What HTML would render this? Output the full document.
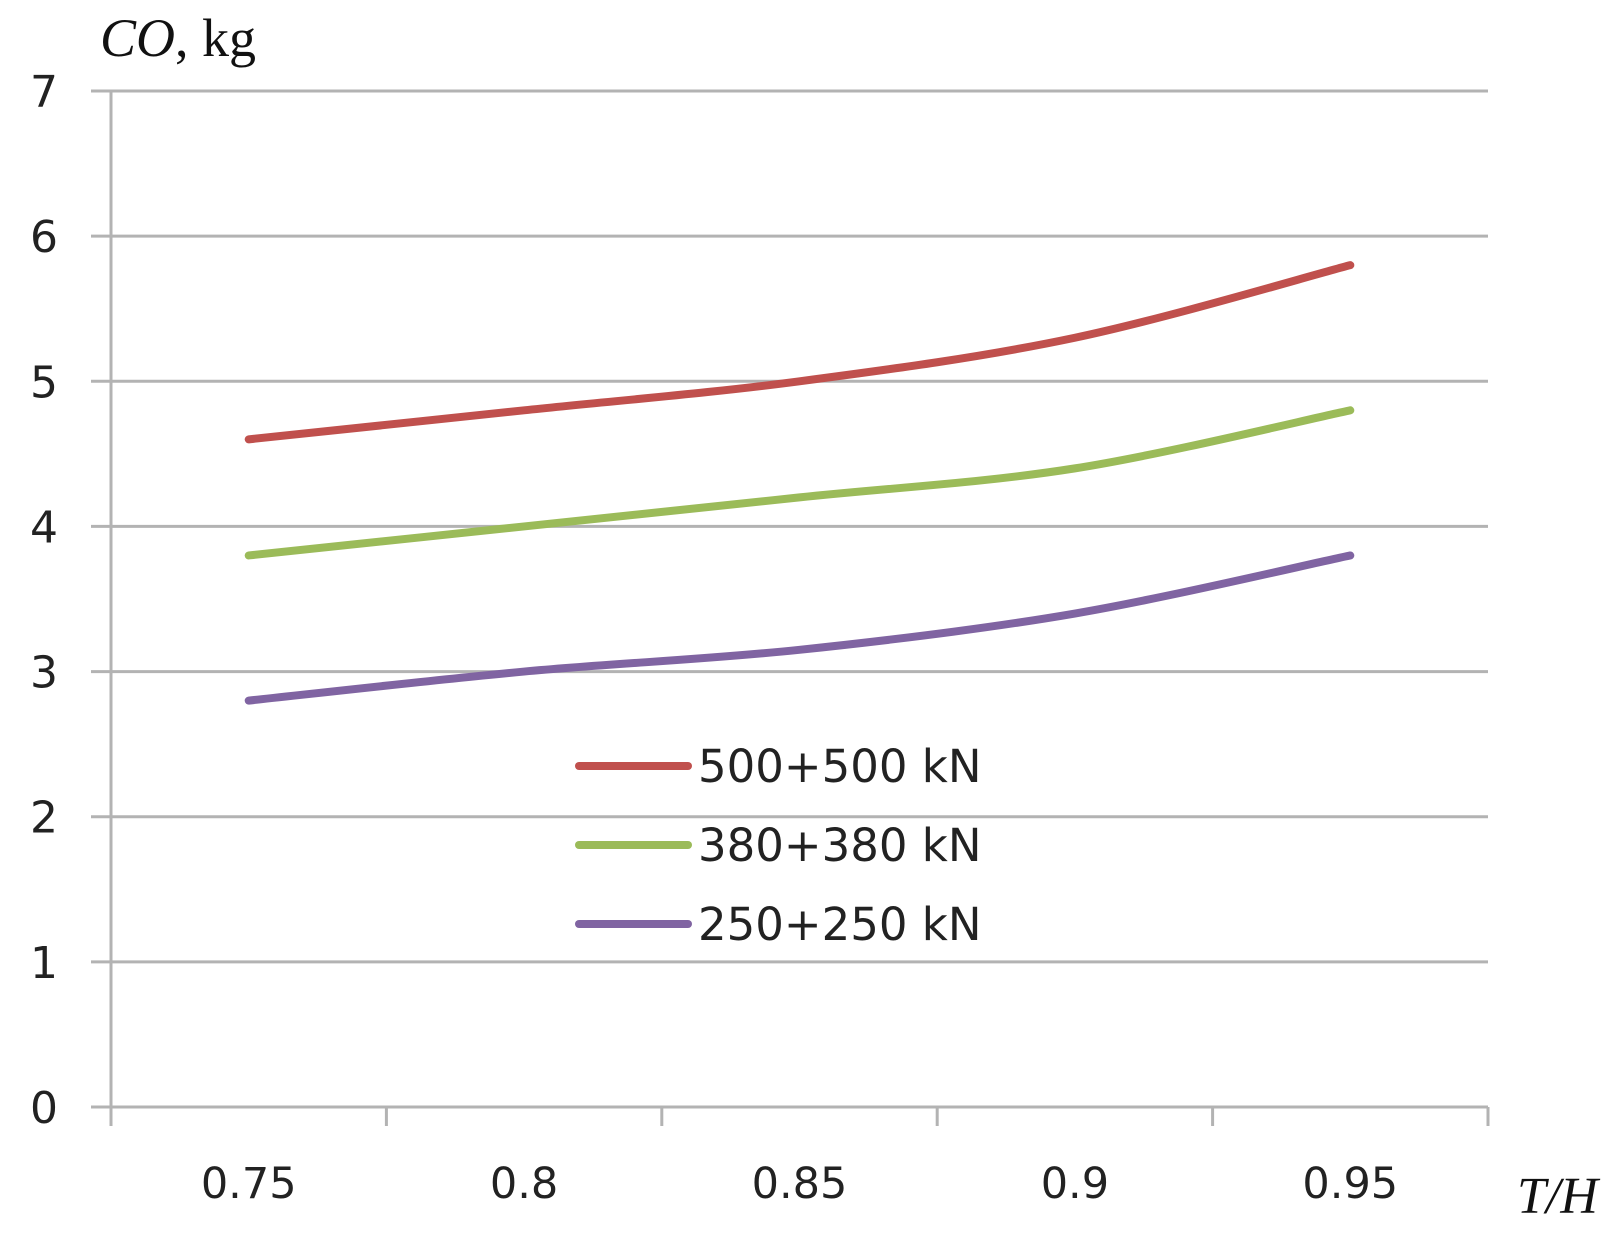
<!DOCTYPE html>
<html><head><meta charset="utf-8"><style>
html,body{margin:0;padding:0;background:#fff}
svg{display:block}
text{font-family:"DejaVu Sans","Liberation Sans",sans-serif;fill:#222}
</style></head><body>
<svg id="chart" width="1623" height="1237" viewBox="0 0 1623 1237" xmlns="http://www.w3.org/2000/svg">
<text x="100" y="56" style="font-family:'Liberation Serif',serif;font-size:54px;fill:#111"><tspan font-style="italic">CO</tspan>, kg</text>
<text x="1517" y="1213" style="font-family:'Liberation Serif',serif;font-size:52px;font-style:italic;fill:#111">T/H</text>
<g id="grid"></g><g id="axes"></g><g id="series"></g><g id="legend"></g>
</svg>
<script>
const categories=["0.75","0.8","0.85","0.9","0.95"];
const yTicks=[0,1,2,3,4,5,6,7];
const seriesNames=["500+500 kN","380+380 kN","250+250 kN"];
const s500=[4.6,4.8,5.0,5.3,5.8];
const s380=[3.8,4.0,4.2,4.4,4.8];
const s250=[2.8,3.0,3.15,3.4,3.8];
const colors=["#c0504d","#9bbb59","#8064a2"];
const NS="http://www.w3.org/2000/svg";
const L=111,R=1488,T=91,B=1107,yMax=7;
const step=(R-L)/categories.length;
const xS=i=>L+step*(i+0.5);
const yS=v=>B-(B-T)*v/yMax;
function mk(tag,attrs,parent){const e=document.createElementNS(NS,tag);for(const k in attrs)e.setAttribute(k,attrs[k]);parent.appendChild(e);return e;}
const grid=document.getElementById('grid'),axes=document.getElementById('axes'),ser=document.getElementById('series'),leg=document.getElementById('legend');
yTicks.forEach(v=>{
  const y=yS(v);
  if(v>0){const g=mk('line',{x1:L-20,x2:R,y1:y,y2:y,stroke:'#b3b3b3','stroke-width':3},grid);
  
  }
  const t=mk('text',{x:58,y:y+16,'text-anchor':'end','font-size':44},axes);t.textContent=v;
  
  
});
const ya=mk('line',{x1:L,x2:L,y1:T,y2:B,stroke:'#b3b3b3','stroke-width':3},axes);


const xa=mk('line',{x1:L-20,x2:R,y1:B,y2:B,stroke:'#b3b3b3','stroke-width':3},axes);


for(let i=0;i<=categories.length;i++){const x=L+step*i;const tk=mk('line',{x1:x,x2:x,y1:B,y2:B+19,stroke:'#b3b3b3','stroke-width':3},axes);

}
categories.forEach((c,i)=>{const t=mk('text',{x:xS(i),y:1198,'text-anchor':'middle','font-size':43},axes);t.textContent=c;

});
function smooth(pts){let d=`M${pts[0][0]},${pts[0][1]}`;const tn=0.25;
for(let i=0;i<pts.length-1;i++){const p0=pts[i-1]||pts[i],p1=pts[i],p2=pts[i+1],p3=pts[i+2]||p2;
d+=` C${p1[0]+(p2[0]-p0[0])*tn/1.5},${p1[1]+(p2[1]-p0[1])*tn/1.5} ${p2[0]-(p3[0]-p1[0])*tn/1.5},${p2[1]-(p3[1]-p1[1])*tn/1.5} ${p2[0]},${p2[1]}`;}return d;}
[s500,s380,s250].forEach((s,k)=>{
  const p=mk('path',{d:smooth(s.map((v,i)=>[xS(i),yS(v)])),fill:'none',stroke:colors[k],'stroke-width':8,'stroke-linecap':'round'},ser);
  
  
  const ly=766+79*k;
  const ll=mk('line',{x1:579,x2:688,y1:ly,y2:ly,stroke:colors[k],'stroke-width':8,'stroke-linecap':'round'},leg);
  
  
  const lt=mk('text',{x:698,y:ly+16,'font-size':45},leg);lt.textContent=seriesNames[k];
  
  
});
</script>
</body></html>
